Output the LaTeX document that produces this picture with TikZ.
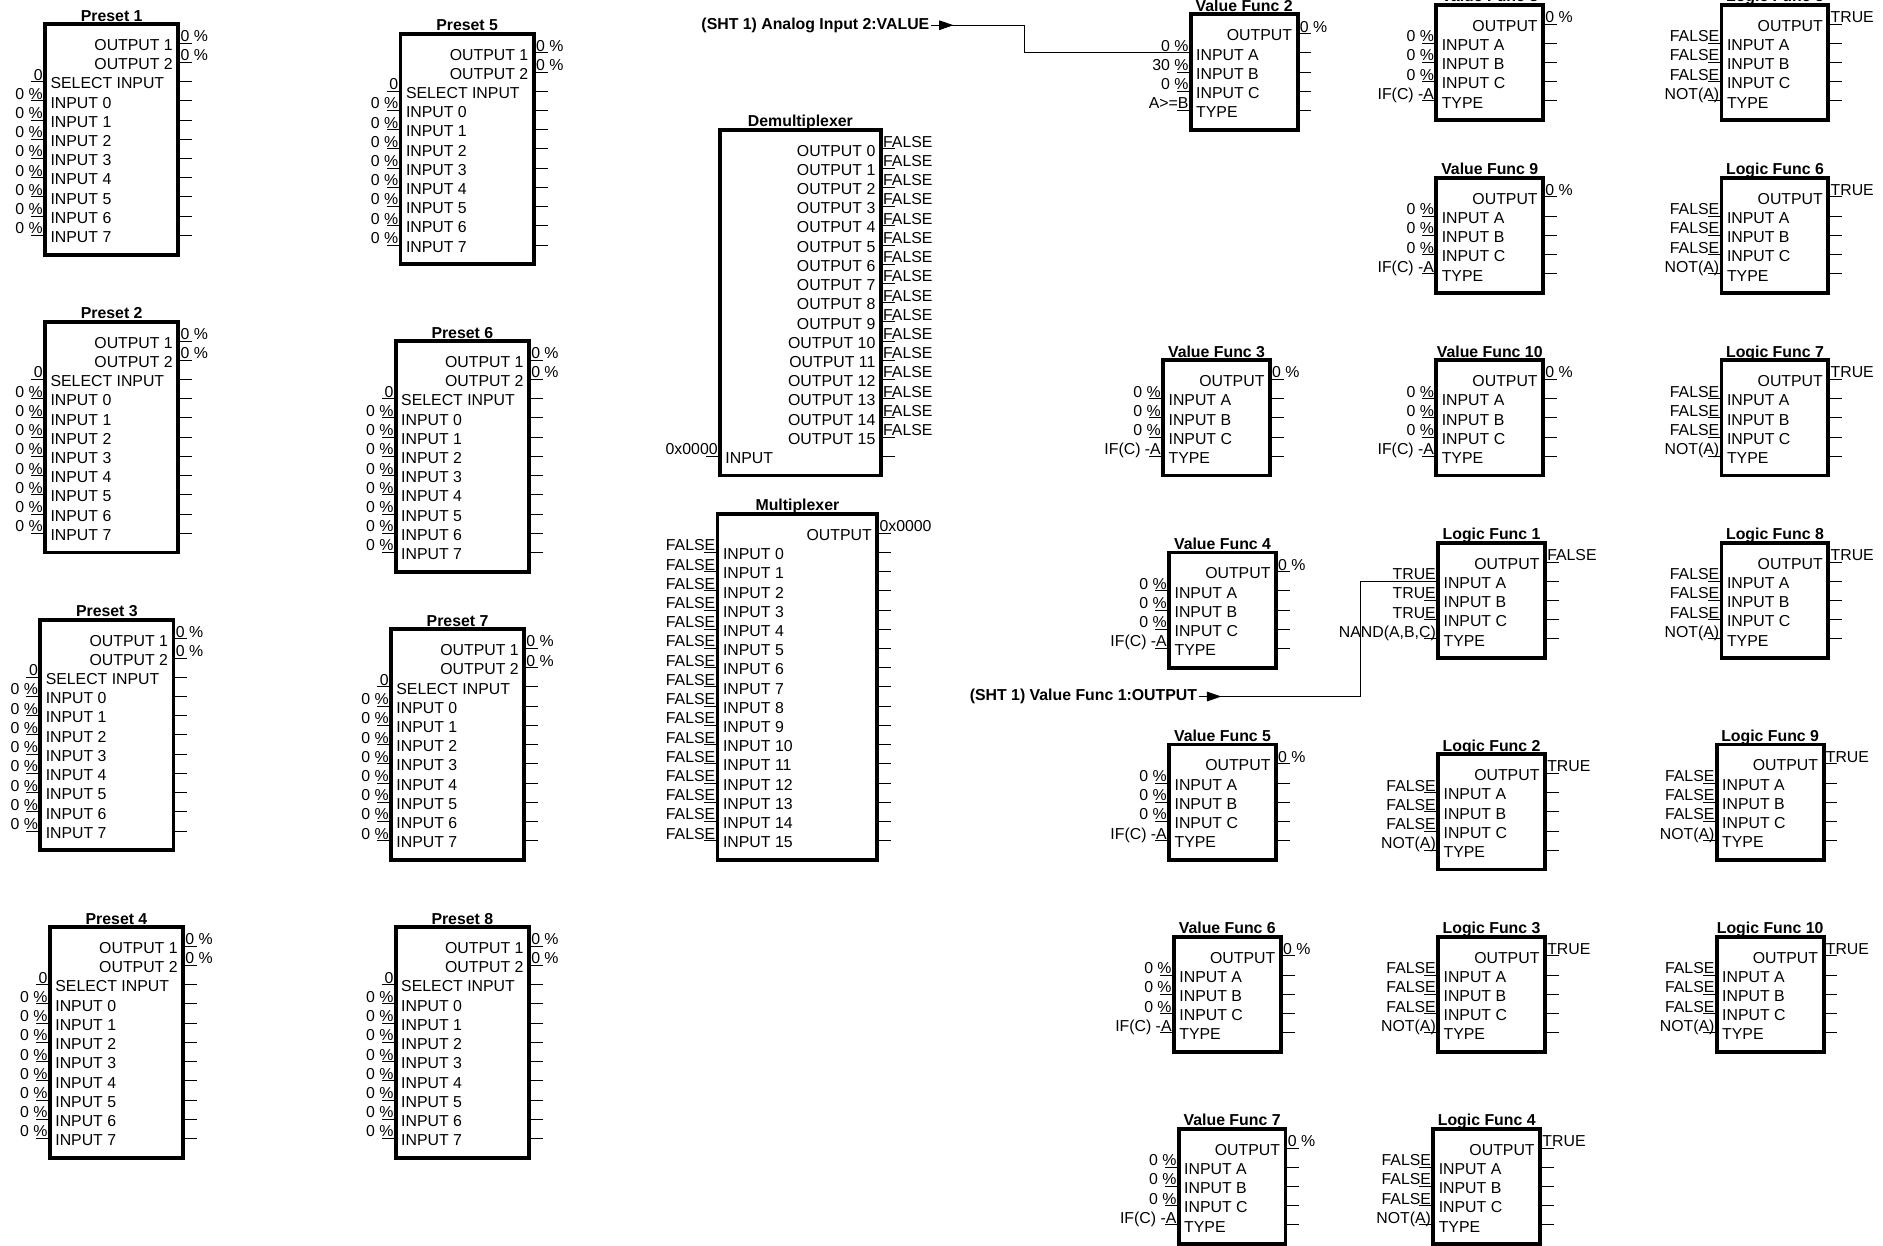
\documentclass[tikz,border=0pt]{standalone}
\usepackage{fontspec}
\setmainfont{Liberation Sans}
\usetikzlibrary{calc,arrows.meta,decorations.markings}

% pin on the left side: block, row, value, label
\newcommand{\inpin}[4]{%
  \path ($(#1.north west)+(0,{16+16*#2})$) coordinate (#1-l#2);
  \draw[pin] (#1-l#2) -- ++(-11.5,0);
  \node[lbl, anchor=base east] at ([shift={(-1.7,-1.3)}]#1-l#2) {#3};
  \node[lbl, anchor=base west] at ([shift={(4.4,6)}]#1-l#2) {#4};
}
% pin on the right side: block, row, label, value
\newcommand{\outpin}[4]{%
  \path ($(#1.north east)+(0,{16+16*#2})$) coordinate (#1-r#2);
  \draw[pin] (#1-r#2) -- ++(11.5,0);
  \node[lbl, anchor=base west] at ([shift={(1.7,-1.3)}]#1-r#2) {#4};
  \node[lbl, anchor=base east] at ([shift={(-4.4,6)}]#1-r#2) {#3};
}
\newcommand{\presetblk}[4]{%
  \node[blk, minimum width=111, minimum height=192] (#1) at (#2,#3) {};
  \node[ttl] at ([yshift=2.5pt]#1.north) {#4};
  \outpin{#1}{0}{OUTPUT 1}{0 \%}
  \outpin{#1}{1}{OUTPUT 2}{0 \%}
  \inpin{#1}{2}{0}{SELECT INPUT}
  \outpin{#1}{2}{}{}
  \foreach \i in {0,...,7}
  {
    \pgfmathsetmacro\rw{int(\i + 3)}
    \inpin{#1}{\rw}{0 \%}{INPUT \i}
    \outpin{#1}{\rw}{}{}
  }
}
\newcommand{\funcblk}[9]{%
  \node[blk, minimum width=89, minimum height=96] (#1) at (#2,#3) {};
  \node[ttl] at ([yshift=2.5pt]#1.north) {#4};
  \outpin{#1}{0}{OUTPUT}{#9}
  \inpin{#1}{1}{#5}{INPUT A}
  \inpin{#1}{2}{#6}{INPUT B}
  \inpin{#1}{3}{#7}{INPUT C}
  \inpin{#1}{4}{#8}{TYPE}
  \foreach \q in {1,...,4} {\outpin{#1}{\q}{}{}}
}

\begin{document}
\begin{tikzpicture}[
x=1pt, y=-1pt,
blk/.style={draw, rectangle, line width=3.2pt, anchor=north west, inner sep=0pt, outer sep=0pt},
ttl/.style={font=\fontsize{13.2}{15}\selectfont\bfseries, anchor=base, inner sep=0pt},
lbl/.style={font=\fontsize{13.2}{15}\selectfont, inner sep=0pt},
pin/.style={line width=0.8pt},
sig/.style={font=\fontsize{13.2}{15}\selectfont\bfseries, anchor=east, inner sep=1pt},
wire/.style={line width=0.8pt, postaction={decorate},
  decoration={markings, mark=at position 19pt with {\arrow{Triangle[length=12pt,width=8pt]}}}}
]
\fill[white] (0,0) rectangle (1568,1037);
\useasboundingbox (0,0) rectangle (1568,1037);

\presetblk{p1}{37.5}{20}{Preset 1}
\presetblk{p2}{37.5}{268}{Preset 2}
\presetblk{p3}{33.5}{516}{Preset 3}
\presetblk{p4}{41.5}{772}{Preset 4}
\presetblk{p5}{333.5}{28}{Preset 5}
\presetblk{p6}{329.5}{284}{Preset 6}
\presetblk{p7}{325.5}{524}{Preset 7}
\presetblk{p8}{329.5}{772}{Preset 8}

\node[blk, minimum width=134, minimum height=288] (demux) at (599.5,108) {};
\node[ttl] at ([yshift=2.5pt]demux.north) {Demultiplexer};
\foreach \i in {0,...,15}
{
  \outpin{demux}{\i}{OUTPUT \i}{FALSE}
}
\inpin{demux}{16}{0x0000}{INPUT}
\outpin{demux}{16}{}{}

\node[blk, minimum width=133, minimum height=288] (mux) at (597.5,428) {};
\node[ttl] at ([yshift=2.5pt]mux.north) {Multiplexer};
\outpin{mux}{0}{OUTPUT}{0x0000}
\foreach \i in {0,...,15}
{
  \pgfmathsetmacro\rw{int(\i + 1)}
  \inpin{mux}{\rw}{FALSE}{INPUT \i}
  \outpin{mux}{\rw}{}{}
}

\funcblk{vf2}{991.5}{12}{Value Func 2}{0 \%}{30 \%}{0 \%}{A>=B}{0 \%}
\funcblk{vf8}{1196}{4}{Value Func 8}{0 \%}{0 \%}{0 \%}{IF(C) -A}{0 \%}
\funcblk{vf9}{1196}{148}{Value Func 9}{0 \%}{0 \%}{0 \%}{IF(C) -A}{0 \%}
\funcblk{vf3}{968.5}{300}{Value Func 3}{0 \%}{0 \%}{0 \%}{IF(C) -A}{0 \%}
\funcblk{vf10}{1196}{300}{Value Func 10}{0 \%}{0 \%}{0 \%}{IF(C) -A}{0 \%}
\funcblk{vf4}{973.5}{460}{Value Func 4}{0 \%}{0 \%}{0 \%}{IF(C) -A}{0 \%}
\funcblk{vf5}{973.5}{620}{Value Func 5}{0 \%}{0 \%}{0 \%}{IF(C) -A}{0 \%}
\funcblk{vf6}{977.5}{780}{Value Func 6}{0 \%}{0 \%}{0 \%}{IF(C) -A}{0 \%}
\funcblk{vf7}{981.5}{940}{Value Func 7}{0 \%}{0 \%}{0 \%}{IF(C) -A}{0 \%}

\funcblk{lf5}{1433.5}{4}{Logic Func 5}{FALSE}{FALSE}{FALSE}{NOT(A)}{TRUE}
\funcblk{lf6}{1433.5}{148}{Logic Func 6}{FALSE}{FALSE}{FALSE}{NOT(A)}{TRUE}
\funcblk{lf7}{1433.5}{300}{Logic Func 7}{FALSE}{FALSE}{FALSE}{NOT(A)}{TRUE}
\funcblk{lf1}{1197.5}{452}{Logic Func 1}{TRUE}{TRUE}{TRUE}{NAND(A,B,C)}{FALSE}
\funcblk{lf8}{1433.5}{452}{Logic Func 8}{FALSE}{FALSE}{FALSE}{NOT(A)}{TRUE}
\funcblk{lf2}{1197.5}{628}{Logic Func 2}{FALSE}{FALSE}{FALSE}{NOT(A)}{TRUE}
\funcblk{lf9}{1429.5}{620}{Logic Func 9}{FALSE}{FALSE}{FALSE}{NOT(A)}{TRUE}
\funcblk{lf3}{1197.5}{780}{Logic Func 3}{FALSE}{FALSE}{FALSE}{NOT(A)}{TRUE}
\funcblk{lf10}{1429.5}{780}{Logic Func 10}{FALSE}{FALSE}{FALSE}{NOT(A)}{TRUE}
\funcblk{lf4}{1193.5}{940}{Logic Func 4}{FALSE}{FALSE}{FALSE}{NOT(A)}{TRUE}

\node[sig] (ain2) at (775,21) {(SHT 1) Analog Input 2:VALUE};
\draw[wire] (ain2.east) -- ++(78,0) |- (vf2-l1);
\node[sig] (vf1out) at (998,580) {(SHT 1) Value Func 1:OUTPUT};
\draw[wire] (vf1out.east) -- ++(135,0) |- (lf1-l1);
\end{tikzpicture}
\end{document}
